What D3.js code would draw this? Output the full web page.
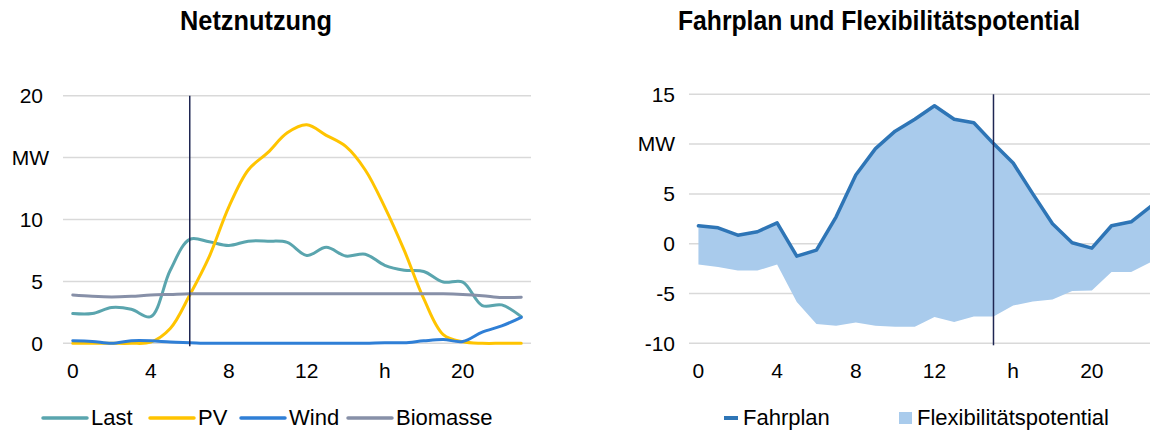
<!DOCTYPE html>
<html>
<head>
<meta charset="utf-8">
<script src="https://cdn.jsdelivr.net/npm/d3@7"></script>
<style>
  html, body { margin: 0; padding: 0; background: #fff; }
  svg { display: block; font-family: "Liberation Sans", Arial, sans-serif; }
</style>
</head>
<body>
<svg id="chart" width="1150" height="432"></svg>
<script>
// Hours of the day (categories on both x axes)
const hours = [0, 1, 2, 3, 4, 5, 6, 7, 8, 9, 10, 11, 12, 13, 14, 15, 16, 17, 18, 19, 20, 21, 22, 23];

// Netznutzung series (MW)
const last     = [2.4, 2.4, 2.9, 2.75, 2.15, 5.9, 8.4, 8.2, 7.9, 8.25, 8.25, 8.15, 7.1, 7.75, 7.05, 7.2, 6.3, 5.9, 5.8, 4.95, 4.95, 3.05, 3.1, 2.15];
const pv       = [0, 0, 0, 0, 0.1, 1.2, 3.9, 7.0, 11.0, 14.0, 15.4, 17.0, 17.65, 16.8, 15.9, 14.0, 11.0, 7.5, 3.6, 0.7, 0.12, 0, 0, 0];
const wind     = [0.2, 0.15, 0, 0.2, 0.2, 0.1, 0.05, 0, 0, 0, 0, 0, 0, 0, 0, 0, 0.05, 0.05, 0.2, 0.3, 0.15, 0.9, 1.4, 2.1];
const biomasse = [3.9, 3.8, 3.75, 3.8, 3.9, 3.95, 4, 4, 4, 4, 4, 4, 4, 4, 4, 4, 4, 4, 4, 4, 3.95, 3.85, 3.7, 3.72];

// Fahrplan and lower bound of the flexibility band (MW)
const fahrplan  = [1.8, 1.6, 0.85, 1.2, 2.1, -1.25, -0.65, 2.7, 6.9, 9.55, 11.3, 12.5, 13.85, 12.5, 12.15, 10.05, 8.1, 5.0, 2.0, 0.1, -0.45, 1.8, 2.2, 3.75];
const flexLower = [-2.1, -2.35, -2.7, -2.7, -2.1, -5.85, -8.05, -8.25, -7.9, -8.25, -8.35, -8.35, -7.35, -7.85, -7.3, -7.3, -6.2, -5.8, -5.6, -4.75, -4.7, -2.85, -2.85, -1.85];

// Axis ticks and labels
const leftYTicks  = [0, 5, 10, 15, 20];
const rightYTicks = [-10, -5, 0, 5, 10, 15];
const xTickHours  = [0, 4, 8, 12, 16, 20];
const unitTick = { left: 15, right: 10 };   // gridline whose label reads "MW"
const hourTick = 16;                         // x label that reads "h"

// Current-time markers
const markerLeft = 6;
const markerRight = 15;

// Legend entries
const leftSeriesNames = ["Last", "PV", "Wind", "Biomasse"];
const rightSeriesNames = ["Fahrplan", "Flexibilitätspotential"];

const colors = {
  Last: "#5aa5ae",
  PV: "#ffc400",
  Wind: "#2f7fd6",
  Biomasse: "#8790a8",
  Fahrplan: "#2e75b6",
  Flex: "#a9cbec",
  marker: "#1f2652",
  grid: "#d9d9d9"
};

const svg = d3.select("#chart");

// ---------- Titles ----------
svg.append("text").attr("x", 256).attr("y", 30).attr("text-anchor", "middle")
  .attr("font-size", 27).attr("font-weight", "bold").attr("fill", "#000")
  .attr("textLength", 152).attr("lengthAdjust", "spacingAndGlyphs")
  .text("Netznutzung");
svg.append("text").attr("x", 879).attr("y", 30).attr("text-anchor", "middle")
  .attr("font-size", 27).attr("font-weight", "bold").attr("fill", "#000")
  .attr("textLength", 402).attr("lengthAdjust", "spacingAndGlyphs")
  .text("Fahrplan und Flexibilitätspotential");

// ---------- Left chart: Netznutzung ----------
const xL = d3.scalePoint().domain(hours).range([63, 531]).padding(0.5);
const yL = d3.scaleLinear().domain([0, 20]).range([343.3, 95.7]);
const gL = svg.append("g");

gL.selectAll("line.grid").data(leftYTicks).join("line")
  .attr("x1", 63).attr("x2", 531)
  .attr("y1", d => yL(d)).attr("y2", d => yL(d))
  .attr("stroke", colors.grid).attr("stroke-width", 1.5);

gL.selectAll("text.ytick").data(leftYTicks).join("text")
  .attr("x", d => d === unitTick.left ? 49 : 43)
  .attr("y", d => yL(d)).attr("dy", "0.35em")
  .attr("text-anchor", "end").attr("font-size", 21).attr("fill", "#000")
  .text(d => d === unitTick.left ? "MW" : d);

gL.selectAll("text.xtick").data(xTickHours).join("text")
  .attr("x", d => xL(d)).attr("y", 378)
  .attr("text-anchor", "middle").attr("font-size", 21).attr("fill", "#000")
  .text(d => d === hourTick ? "h" : d);

const smooth = d3.line()
  .x((d, i) => xL(hours[i]))
  .y(d => yL(d))
  .curve(d3.curveCatmullRom.alpha(0.5));

[["Last", last], ["PV", pv], ["Wind", wind], ["Biomasse", biomasse]].forEach(([name, vals]) => {
  gL.append("path").datum(vals)
    .attr("d", smooth)
    .attr("fill", "none")
    .attr("stroke", colors[name])
    .attr("stroke-width", 3)
    .attr("stroke-linejoin", "round")
    .attr("stroke-linecap", "round");
});

gL.append("line")
  .attr("x1", xL(markerLeft)).attr("x2", xL(markerLeft))
  .attr("y1", yL(20)).attr("y2", yL(0) + 3)
  .attr("stroke", colors.marker).attr("stroke-width", 1.5);

// Left legend
const legL = svg.append("g").attr("font-size", 22).attr("fill", "#000");
const legLX = [43, 150, 241, 348];
leftSeriesNames.forEach((name, i) => {
  legL.append("line")
    .attr("x1", legLX[i]).attr("x2", legLX[i] + 44)
    .attr("y1", 418).attr("y2", 418)
    .attr("stroke", colors[name]).attr("stroke-width", 3.5).attr("stroke-linecap", "round");
  legL.append("text").attr("x", legLX[i] + 48).attr("y", 425).text(name);
});

// ---------- Right chart: Fahrplan und Flexibilitätspotential ----------
const xR = d3.scalePoint().domain(hours).range([688.6, 688.6 + 24 * 19.67]).padding(0.5);
const yR = d3.scaleLinear().domain([-10, 15]).range([343.3, 94.3]);
const gR = svg.append("g");

gR.selectAll("line.grid").data(rightYTicks).join("line")
  .attr("x1", 689).attr("x2", 1160)
  .attr("y1", d => yR(d)).attr("y2", d => yR(d))
  .attr("stroke", colors.grid).attr("stroke-width", 1.5);

gR.selectAll("text.ytick").data(rightYTicks).join("text")
  .attr("x", 675)
  .attr("y", d => yR(d)).attr("dy", "0.35em")
  .attr("text-anchor", "end").attr("font-size", 21).attr("fill", "#000")
  .text(d => d === unitTick.right ? "MW" : d);

gR.selectAll("text.xtick").data(xTickHours).join("text")
  .attr("x", d => xR(d)).attr("y", 378)
  .attr("text-anchor", "middle").attr("font-size", 21).attr("fill", "#000")
  .text(d => d === hourTick ? "h" : d);

const band = d3.area()
  .x((d, i) => xR(hours[i]))
  .y0((d, i) => yR(flexLower[i]))
  .y1(d => yR(d));

gR.append("path").datum(fahrplan)
  .attr("d", band)
  .attr("fill", colors.Flex);

gR.append("path").datum(fahrplan)
  .attr("d", d3.line().x((d, i) => xR(hours[i])).y(d => yR(d)))
  .attr("fill", "none")
  .attr("stroke", colors.Fahrplan)
  .attr("stroke-width", 3.5)
  .attr("stroke-linejoin", "round")
  .attr("stroke-linecap", "round");

gR.append("line")
  .attr("x1", xR(markerRight)).attr("x2", xR(markerRight))
  .attr("y1", yR(15)).attr("y2", yR(-10) + 2)
  .attr("stroke", colors.marker).attr("stroke-width", 1.5);

// Right legend
const legR = svg.append("g").attr("font-size", 22).attr("fill", "#000");
legR.append("line")
  .attr("x1", 724).attr("x2", 738).attr("y1", 418).attr("y2", 418)
  .attr("stroke", colors.Fahrplan).attr("stroke-width", 4);
legR.append("text").attr("x", 743).attr("y", 425).text(rightSeriesNames[0]);
legR.append("rect")
  .attr("x", 899).attr("y", 412).attr("width", 13).attr("height", 12)
  .attr("fill", colors.Flex);
legR.append("text").attr("x", 917).attr("y", 425).text(rightSeriesNames[1]);
</script>
</body>
</html>
